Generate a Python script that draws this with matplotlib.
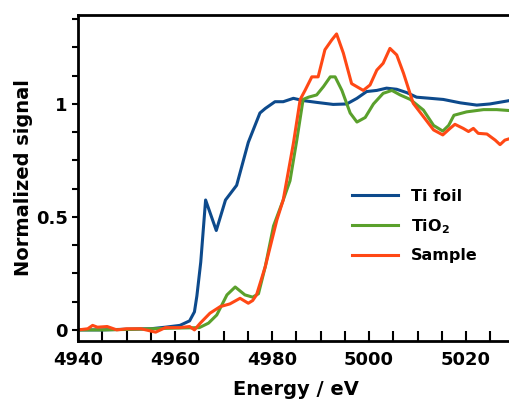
import matplotlib
matplotlib.use("Agg")
import matplotlib.pyplot as plt
from matplotlib.ticker import MultipleLocator

plt.rcParams['font.family'] = ['DejaVu Sans']
plt.rcParams['font.weight'] = 'bold'
plt.rcParams['mathtext.default'] = 'bf'

# Ti foil
ti_x = [4940, 4945, 4950, 4955, 4958, 4961, 4963, 4964, 4964.5, 4965.3, 4966.3, 4968.5, 4970.4,
        4972.7, 4975.1, 4977.5, 4978.6, 4980.6, 4982.3, 4984.4, 4986.4, 4989.2, 4992.6, 4995.4,
        4997.5, 4999.5, 5001.6, 5003.6, 5005.7, 5007.8, 5009.8, 5012.6, 5015.3, 5018.8, 5022.2,
        5024.9, 5029.5]
ti_y = [0.0, 0.0, 0.003, 0.005, 0.012, 0.02, 0.04, 0.08, 0.15, 0.3, 0.575, 0.44, 0.575,
        0.64, 0.83, 0.96, 0.98, 1.01, 1.01, 1.025, 1.015, 1.007, 0.998, 1.0,
        1.025, 1.055, 1.06, 1.07, 1.065, 1.05, 1.03, 1.025, 1.02, 1.005, 0.995,
        1.0, 1.017]

# TiO2
tio2_x = [4940, 4945, 4950, 4955, 4960, 4965, 4966.9, 4968.6, 4970.7, 4972.4, 4974.4, 4976.0,
          4977.2, 4978.6, 4980.3, 4982.3, 4983.7, 4985.1, 4986.4, 4987.5, 4989.2, 4990.6,
          4992.0, 4993.0, 4994.4, 4996.1, 4997.5, 4999.2, 5000.9, 5002.9, 5004.7, 5006.4,
          5008.5, 5011.2, 5013.3, 5015.2, 5016.4, 5017.5, 5020.1, 5023.6, 5026.3, 5029.5]
tio2_y = [0.0, 0.0, 0.002, 0.005, 0.008, 0.01, 0.03, 0.066, 0.155, 0.19, 0.155, 0.145,
          0.16, 0.28, 0.46, 0.575, 0.66, 0.84, 1.02, 1.03, 1.04, 1.077,
          1.12, 1.12, 1.06, 0.96, 0.92, 0.94, 1.0, 1.047, 1.06, 1.04,
          1.02, 0.973, 0.905, 0.88, 0.905, 0.95, 0.965, 0.975, 0.975, 0.97]

# Sample
smp_x = [4940, 4942, 4943, 4944, 4946, 4948, 4950, 4953, 4956, 4958, 4961, 4963, 4964, 4965.2,
         4967.2, 4969.3, 4971.3, 4973.4, 4975.1, 4976.0, 4976.8, 4978.6, 4981.0, 4982.3,
         4984.4, 4985.8, 4986.8, 4988.2, 4989.5, 4990.9, 4992.3, 4993.3, 4994.7, 4996.4,
         4998.8, 5000.2, 5001.6, 5002.9, 5004.3, 5005.7, 5007.1, 5009.1, 5011.2, 5013.3,
         5015.2, 5016.7, 5017.7, 5019.4, 5020.5, 5021.5, 5022.5, 5024.3, 5026.0, 5027.0,
         5028.0, 5029.5]
smp_y = [0.0, 0.005, 0.02, 0.012, 0.015, 0.0, 0.005, 0.005, -0.01, 0.01, 0.01, 0.015, 0.0, 0.03,
         0.074, 0.103, 0.115, 0.14, 0.118, 0.13, 0.155, 0.28, 0.487, 0.575,
         0.826, 1.02, 1.06, 1.12, 1.12, 1.24, 1.283, 1.31, 1.225, 1.09,
         1.06, 1.084, 1.15, 1.18, 1.246, 1.217, 1.136, 1.003, 0.944, 0.885,
         0.863, 0.892, 0.91, 0.892, 0.878, 0.892, 0.87, 0.867, 0.84, 0.82,
         0.84, 0.85]

fig = plt.figure(figsize=(5.1, 4.04), dpi=100)
ax = fig.add_axes([0.153, 0.156, 0.856, 0.807])

ax.plot(ti_x, ti_y, color='#0d4a8c', lw=2.2, label='Ti foil')
ax.plot(tio2_x, tio2_y, color='#5aa02c', lw=2.2, label='TiO$_2$')
ax.plot(smp_x, smp_y, color='#ff4815', lw=2.2, label='Sample')

ax.set_xlim(4940, 5030)
ax.set_ylim(-0.049, 1.394)
ax.xaxis.set_major_locator(MultipleLocator(20))
ax.xaxis.set_minor_locator(MultipleLocator(5))
ax.yaxis.set_major_locator(MultipleLocator(0.5))
ax.yaxis.set_minor_locator(MultipleLocator(0.125))
ax.set_yticks([0, 0.5, 1])
ax.set_yticklabels(['0', '0.5', '1'])

ax.tick_params(axis='x', which='both', direction='in', length=7, width=1.5, labelsize=13, pad=7)
ax.tick_params(axis='y', which='both', direction='out', length=4, width=1.5, labelsize=13)
for s in ax.spines.values():
    s.set_linewidth(2)

ax.set_xlabel('Energy / eV', fontsize=14, fontweight='bold', labelpad=8)
ax.set_ylabel('Normalized signal', fontsize=14, fontweight='bold', labelpad=2)

leg = ax.legend(loc='upper left', bbox_to_anchor=(0.595, 0.51), frameon=False,
                prop={'weight': 'bold', 'size': 11.5}, handlelength=2.9,
                labelspacing=0.8, handletextpad=0.8)

fig.savefig('out.png', dpi=100)
